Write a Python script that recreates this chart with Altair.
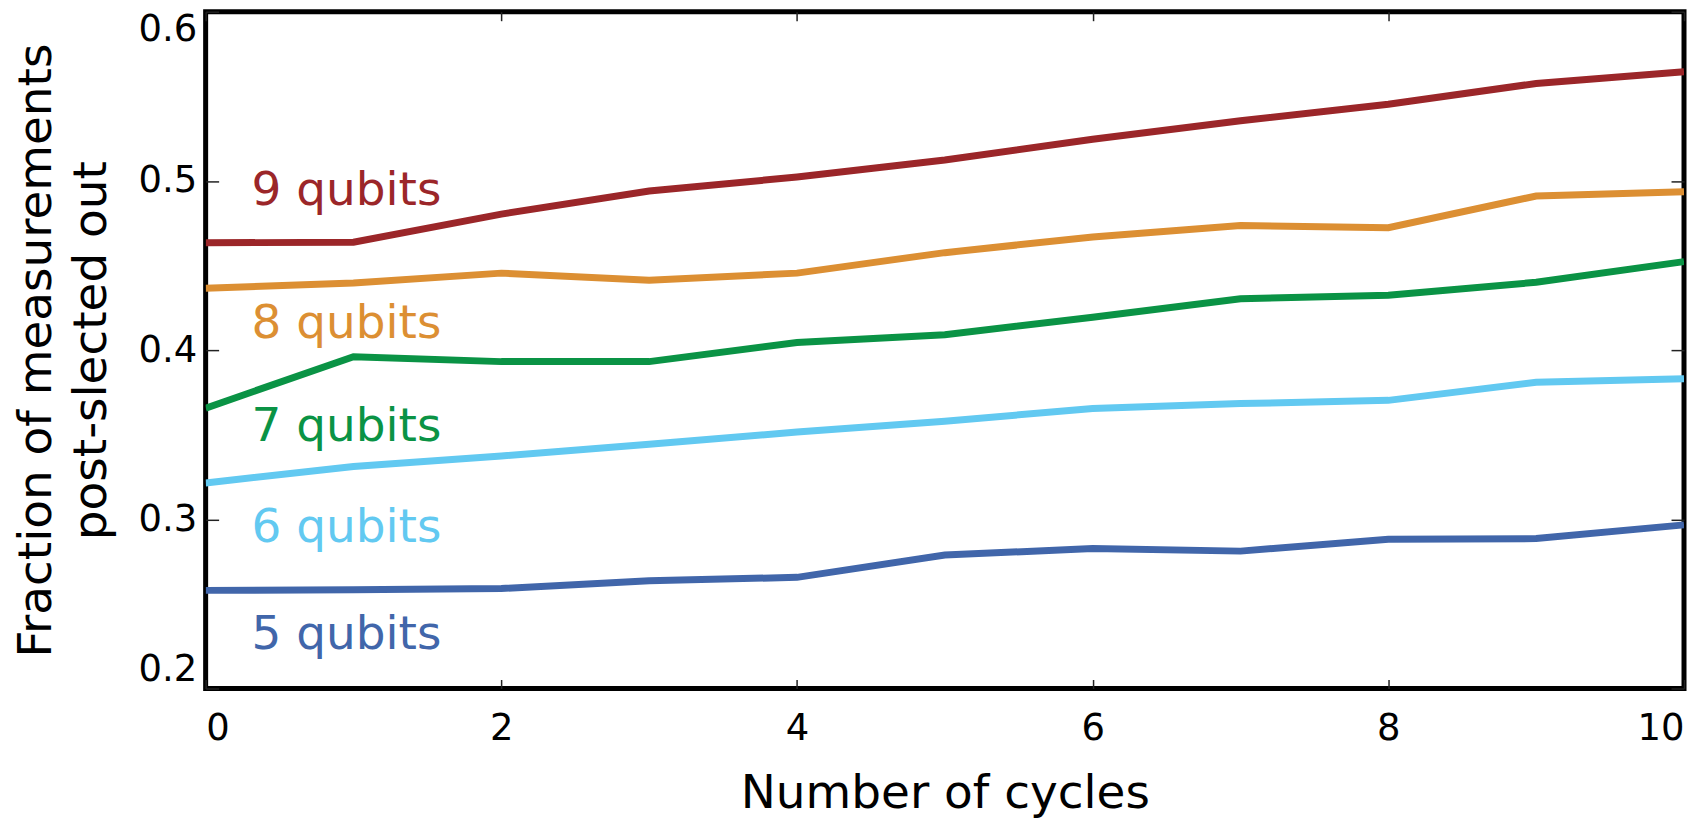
import altair as alt
import pandas as pd

# ---- data ----
cycles = [0, 1, 2, 3, 4, 5, 6, 7, 8, 9, 10]
q5 = [0.2580, 0.2583, 0.2591, 0.2637, 0.2657, 0.2789, 0.2827, 0.2812, 0.2882, 0.2886, 0.2967]
q6 = [0.3215, 0.3312, 0.3374, 0.3444, 0.3516, 0.3580, 0.3655, 0.3684, 0.3703, 0.3810, 0.3831]
q7 = [0.3657, 0.3961, 0.3932, 0.3932, 0.4045, 0.4091, 0.4194, 0.4304, 0.4324, 0.4401, 0.4523]
q8 = [0.4366, 0.4397, 0.4455, 0.4413, 0.4455, 0.4576, 0.4669, 0.4736, 0.4723, 0.4911, 0.4936]
q9 = [0.4634, 0.4638, 0.4804, 0.4940, 0.5023, 0.5124, 0.5246, 0.5356, 0.5453, 0.5576, 0.5645]

series_names = ["5 qubits", "6 qubits", "7 qubits", "8 qubits", "9 qubits"]
series_colors = ["#4166AA", "#62C9F1", "#0A9345", "#DC8F33", "#9B2629"]

# label anchors (data coordinates)
label_x = [0.31, 0.31, 0.31, 0.31, 0.31]
label_y = [0.2233, 0.2866, 0.3460, 0.4070, 0.4860]

x_ticks = [0, 2, 4, 6, 8, 10]
y_ticks = [0.2, 0.3, 0.4, 0.5, 0.6]

rows = []
for name, vals in zip(series_names, [q5, q6, q7, q8, q9]):
    for c, v in zip(cycles, vals):
        rows.append({"cycle": c, "fraction": v, "series": name})
df = pd.DataFrame(rows)
labels_df = pd.DataFrame({"series": series_names, "lx": label_x, "ly": label_y})

W, H = 1481, 678
FONT = "DejaVu Sans"

x_scale = alt.Scale(domain=[0, 10], nice=False, zero=False)
y_scale = alt.Scale(domain=[0.2, 0.6], nice=False, zero=False)
color_scale = alt.Scale(domain=series_names, range=series_colors)

tick_common = dict(domain=False, grid=False, tickWidth=1.5, tickColor="#222222")

lines = alt.Chart(df).mark_line(strokeWidth=7, clip=True).encode(
    x=alt.X("cycle:Q", scale=x_scale, axis=alt.Axis(
        orient="bottom", values=x_ticks, format="d", offset=-9, tickSize=9,
        labelPadding=22, labelFlush=True, labelFontSize=37, labelFont=FONT,
        labelColor="black", labelOverlap=False,
        title="Number of cycles", titleFontSize=47, titleFont=FONT,
        titleFontWeight="normal", titleColor="black", titleX=W / 2, titleY=128,
        titleBaseline="alphabetic", titleAlign="center", **tick_common)),
    y=alt.Y("fraction:Q", scale=y_scale, axis=alt.Axis(
        orient="left", values=y_ticks, format=".1f", offset=-13, tickSize=13,
        labelPadding=9, labelFlush=True, labelFontSize=37, labelFont=FONT,
        labelColor="black", labelOverlap=False,
        title=["Fraction of measurements", "post-slected out"], titleFontSize=47,
        titleFont=FONT, titleFontWeight="normal", titleColor="black",
        titleX=-168, titleY=H / 2, titleAngle=270, titleBaseline="alphabetic",
        titleAlign="center", titleLineHeight=55, **tick_common)),
    color=alt.Color("series:N", scale=color_scale, legend=None),
)

texts = alt.Chart(labels_df).mark_text(
    align="left", baseline="alphabetic", fontSize=47, font=FONT
).encode(
    x=alt.X("lx:Q", scale=x_scale, axis=None),
    y=alt.Y("ly:Q", scale=y_scale, axis=None),
    text="series:N",
    color=alt.Color("series:N", scale=color_scale, legend=None),
)

mirror = alt.Chart(df).mark_point(opacity=0).encode(
    x=alt.X("cycle:Q", scale=x_scale, axis=alt.Axis(
        orient="top", values=x_ticks, labels=False, offset=-9, tickSize=9,
        title=None, **tick_common)),
    y=alt.Y("fraction:Q", scale=y_scale, axis=alt.Axis(
        orient="right", values=y_ticks, labels=False, offset=-13, tickSize=13,
        title=None, **tick_common)),
)

chart = alt.layer(lines, texts, mirror).resolve_axis(
    x="independent", y="independent"
).properties(
    width=W, height=H,
    autosize=alt.AutoSizeParams(type="none"),
    padding={"left": 198, "top": 3, "right": 3, "bottom": 129},
    background="white",
).configure_view(stroke="black", strokeWidth=5)

chart.save("out.html", embed_options={"renderer": "svg", "actions": False})
